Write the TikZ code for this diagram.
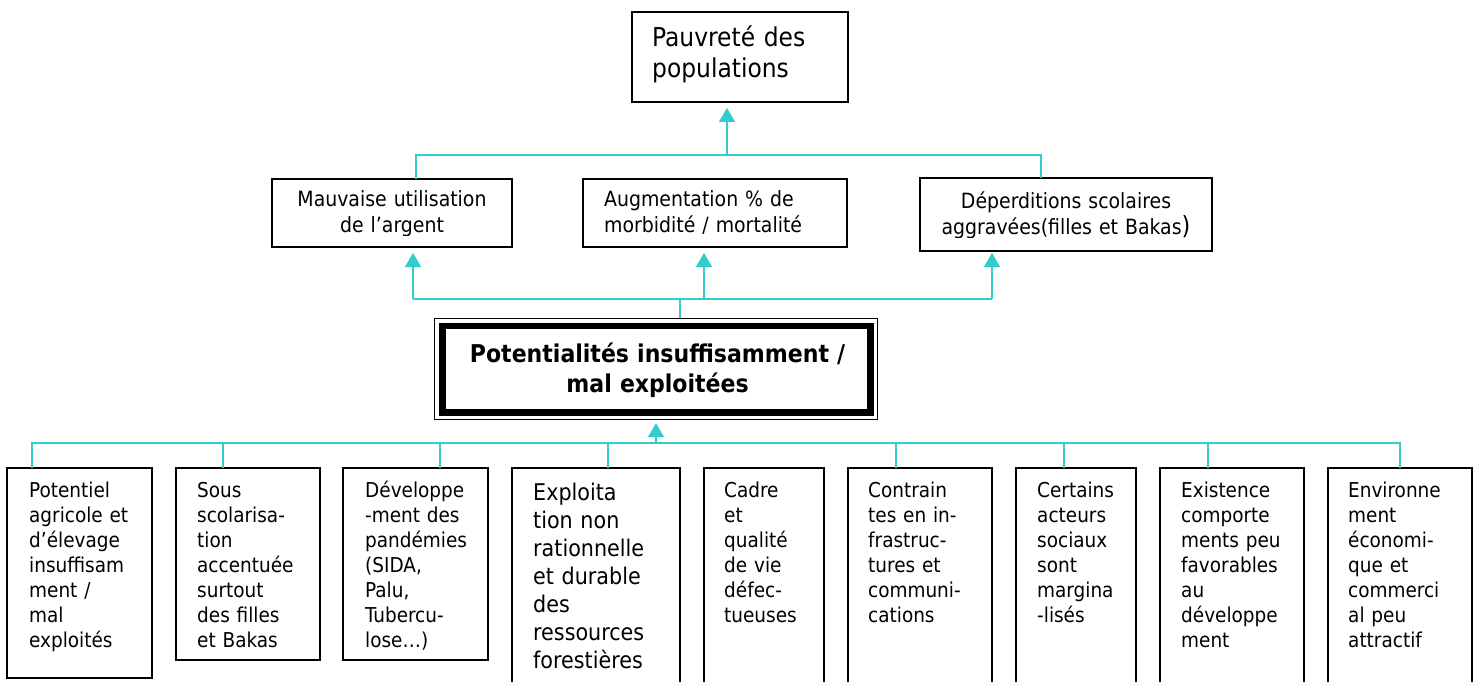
\documentclass[tikz,border=0pt]{standalone}
\usepackage{fontspec}
\setmainfont{DejaVu Sans Condensed}
\usetikzlibrary{arrows.meta,calc}
\definecolor{link}{RGB}{51,204,204}
\tikzset{
  box/.style={draw=black, line width=1.6pt, anchor=north west, inner sep=0pt, outer sep=0pt},
  conn/.style={draw=link, line width=1.7pt},
  up/.style={conn, -{Triangle[width=16pt,length=14pt]}},
  txt/.style={anchor=base west, inner sep=0pt, align=left, text width=220pt,
              font=\fontsize{20.5}{25}\selectfont},
  ctxt/.style={anchor=base, inner sep=0pt, align=center, text width=300pt,
              font=\fontsize{21}{26}\selectfont},
}
\begin{document}
\begin{tikzpicture}[x=1pt,y=-1pt]
\useasboundingbox[fill=white] (0,0) rectangle (1480,682);

% top level
\node[box, minimum width=216pt, minimum height=90pt] (top) at (632,12) {};
\node[txt, font=\fontsize{26}{31}\selectfont] (topt) at ($(top.north west)+(20,35)$)
  {Pauvreté des\\populations};

% consequences
\node[box, minimum width=240pt, minimum height=68pt] (m1) at (272,179) {};
\node[box, minimum width=264pt, minimum height=68pt] (m2) at (583,179) {};
\node[box, minimum width=292pt, minimum height=73pt] (m3) at (920,178) {};
\begin{scope}
  \clip (m1.north west) rectangle ($(m1.south east)+(0,-12)$);
  \node[ctxt] (m1t) at ($(m1.north)+(0,27)$) {Mauvaise utilisation\\de l’argent};
\end{scope}
\node[txt, font=\fontsize{21}{26}\selectfont] (m2t) at ($(m2.north west)+(21,27)$)
  {Augmentation \% de\\morbidité / mortalité};
\begin{scope}
  \clip (m3.north west) rectangle ($(m3.south east)+(0,-14)$);
  \node[ctxt] (m3t) at ($(m3.north)+(0,30)$)
    {Déperditions scolaires\\aggravées(filles et Bakas{\fontsize{25}{26}\selectfont)}};
\end{scope}

% core problem
\node[draw=black, line width=1.2pt, anchor=north west, inner sep=0pt,
      minimum width=443pt, minimum height=101pt] (core) at (434,318) {};
\draw[line width=6.5pt] ($(core.north west)+(8.5,8)$) rectangle ($(core.south east)+(-7.5,-7.5)$);
\node[anchor=base, inner sep=0pt, align=center, text width=420pt,
      font=\bfseries\fontsize{24.5}{30}\selectfont] (coret) at ($(core.north)+(1.5,44)$)
  {Potentialités insuffisamment /\\mal exploitées};

% causes
\node[box, minimum width=145pt, minimum height=210pt] (c1) at (7,468) {};
\node[box, minimum width=144pt, minimum height=192pt] (c2) at (176,468) {};
\node[box, minimum width=145pt, minimum height=192pt] (c3) at (343,468) {};
\node[box, minimum width=168pt, minimum height=240pt] (c4) at (512,468) {};
\node[box, minimum width=120pt, minimum height=240pt] (c5) at (704,468) {};
\node[box, minimum width=144pt, minimum height=240pt] (c6) at (848,468) {};
\node[box, minimum width=120pt, minimum height=240pt] (c7) at (1016,468) {};
\node[box, minimum width=144pt, minimum height=240pt] (c8) at (1160,468) {};
\node[box, minimum width=144pt, minimum height=240pt] (c9) at (1328,468) {};

\node[txt] (c1t) at ($(c1.north west)+(22,29)$)
  {Potentiel\\agricole et\\d’élevage\\insuffisam\\ment /\\mal\\exploités};
\node[txt] (c2t) at ($(c2.north west)+(21,29)$)
  {Sous\\scolarisa-\\tion\\accentuée\\surtout\\des filles\\et Bakas};
\node[txt] (c3t) at ($(c3.north west)+(22,29)$)
  {Développe\\-ment des\\pandémies\\(SIDA,\\Palu,\\Tubercu-\\lose…)};
\node[txt, font=\fontsize{23}{28}\selectfont] (c4t) at ($(c4.north west)+(21,32)$)
  {Exploita\\tion non\\rationnelle\\et durable\\des\\ressources\\forestières};
\node[txt] (c5t) at ($(c5.north west)+(20,29)$)
  {Cadre\\et\\qualité\\de vie\\défec-\\tueuses};
\node[txt] (c6t) at ($(c6.north west)+(20,29)$)
  {Contrain\\tes en in-\\frastruc-\\tures et\\communi-\\cations};
\node[txt] (c7t) at ($(c7.north west)+(21,29)$)
  {Certains\\acteurs\\sociaux\\sont\\margina\\-lisés};
\node[txt] (c8t) at ($(c8.north west)+(21,29)$)
  {Existence\\comporte\\ments peu\\favorables\\au\\développe\\ment};
\node[txt] (c9t) at ($(c9.north west)+(20,29)$)
  {Environne\\ment\\économi-\\que et\\commerci\\al peu\\attractif};

% connectors: consequences -> poverty
\coordinate (hA) at (416,155);
\coordinate (hB) at (727,155);
\coordinate (hC) at (1041,155);
\draw[conn] (m1.north -| hA) -- (hA) -- (hC) -- (m3.north -| hC);
\draw[up, shorten >=6pt] (hB) -- (hB |- top.south);

% connectors: core -> consequences
\coordinate (gA) at (413,299);
\coordinate (gB) at (704,299);
\coordinate (gC) at (992,299);
\coordinate (gD) at (680,299);
\draw[conn] (core.north -| gD) -- (gD);
\draw[conn] (gA) -- (gC);
\draw[up, shorten >=6pt] (gA) -- (gA |- m1.south);
\draw[up, shorten >=6pt] (gB) -- (gB |- m2.south);
\draw[up, shorten >=2pt] (gC) -- (gC |- m3.south);

% connectors: causes -> core
\coordinate (d1) at (32,443);
\coordinate (d9) at (1400,443);
\coordinate (dM) at (656,443);
\draw[conn] (c1.north -| d1) -- (d1) -- (d9) -- (c9.north -| d9);
\foreach \b/\x in {c2/223, c3/440, c4/608, c6/896, c7/1064, c8/1208} {
  \coordinate (d\b) at (\x,443);
  \draw[conn] (d\b) -- (\b.north -| d\b);
}
\draw[up, shorten >=3pt] (dM) -- (dM |- core.south);
\end{tikzpicture}
\end{document}
